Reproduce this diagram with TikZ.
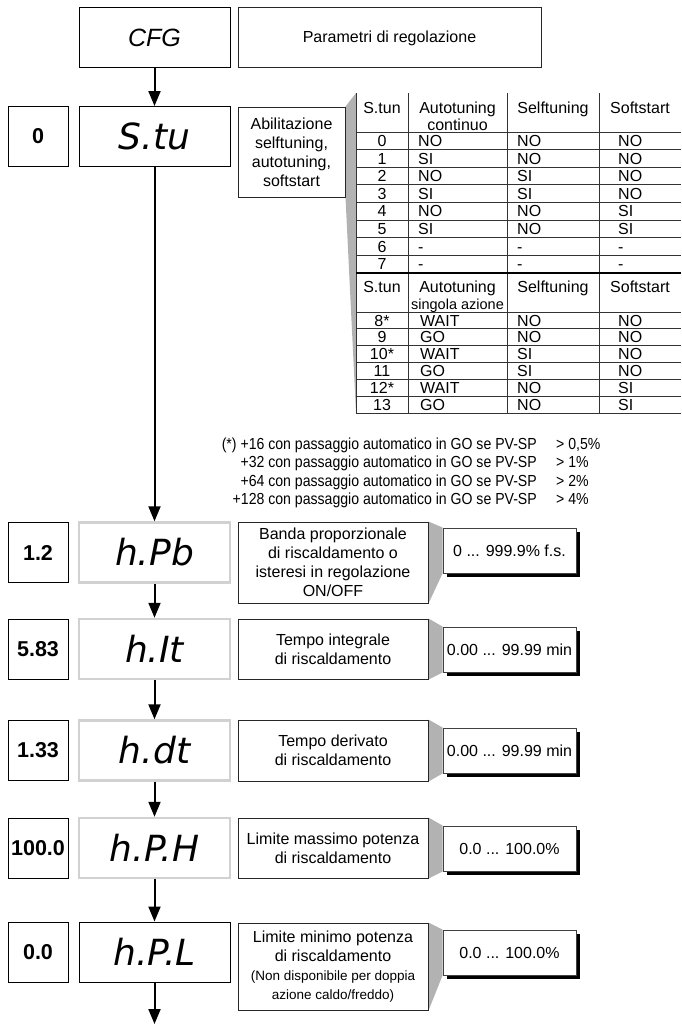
\documentclass[tikz,border=0pt]{standalone}
\usepackage{fontspec}
\setmainfont{Liberation Sans}
\newfontfamily\segfont{DejaVu Sans}
\newfontfamily\narrowfont[FakeStretch=0.88]{Liberation Sans}
\usetikzlibrary{arrows.meta,shadows,backgrounds}

\newcommand{\notefont}{\fontsize{13.5}{17}\selectfont}

\begin{document}
\begin{tikzpicture}[x=1pt,y=-1pt,
  every node/.style={font=\fontsize{16}{19}\selectfont},
  headbox/.style={draw,line width=1pt,minimum width=151pt,minimum height=60pt,inner sep=0pt,font=\fontsize{25}{28}\selectfont\itshape},
  numbox/.style={draw,line width=1pt,minimum width=60pt,minimum height=60pt,inner sep=0pt,font=\fontsize{21.5}{24}\selectfont\bfseries},
  dispbox/.style={draw,line width=1pt,minimum width=151pt,minimum height=60pt,inner sep=0pt,font=\fontsize{36}{40}\selectfont\segfont\itshape},
  dimbox/.style={dispbox,draw=black!18,line width=2.5pt},
  descbox/.style={draw=black!85,line width=1pt,fill=white,minimum width=190pt,align=center,inner sep=0pt,font=\fontsize{16}{19}\selectfont},
  valbox/.style={draw=black!75,line width=1pt,fill=white,minimum width=133pt,minimum height=45pt,inner sep=0pt,
    drop shadow={shadow xshift=4pt,shadow yshift=-4pt,fill=black,opacity=1}},
  cone/.style={fill=black!30},
  flow/.style={line width=2pt,-{Triangle[length=15pt,width=12pt]}},
  cell/.style={inner sep=0pt,font=\fontsize{16}{19}\selectfont},
  rule/.style={line width=0.8pt,draw=black!80},
  note/.style={inner sep=0pt,font=\fontsize{16}{19}\selectfont\narrowfont}
]
\useasboundingbox (0,0) rectangle (681,1025);

\node[headbox] (cfg) at (154.5,38) {CFG};
\node[descbox,minimum width=303pt,minimum height=60pt] (title) at (389.5,38) {Parametri di regolazione};

\node[numbox] (nStu) at (38,136.5) {0};
\node[dispbox] (sTu) at (154.5,136.5) {S.tu};
\node[descbox,minimum width=107pt,minimum height=90pt] (dStu) at (291.5,152) {Abilitazione\\selftuning,\\autotuning,\\softstart};

\coordinate (tabNW) at (356,93);
\coordinate (tabSW) at (356,413);
\foreach \x in {356,408,507,599}
  \draw[rule] (\x,93) -- (\x,413);
\draw[rule] (356,132) -- (681,132);
\foreach \k in {0,...,6}
  \draw[rule] (356,{149.6+17.6*\k}) -- (681,{149.6+17.6*\k});
\draw[line width=2pt] (356,273) -- (681,273);
\draw[rule] (356,312) -- (681,312);
\foreach \k in {0,...,4}
  \draw[rule] (356,{328.8+16.8*\k}) -- (681,{328.8+16.8*\k});
\draw[rule] (356,413) -- (681,413);

\node[cell,anchor=base] (h1n) at (382,113) {S.tun};
\node[cell,anchor=base] (h1a) at (457.5,113) {Autotuning};
\node[cell,anchor=base] (h1b) at (457.5,130) {continuo};
\node[cell,anchor=base] (h1s) at (553,113) {Selftuning};
\node[cell,anchor=base] (h1o) at (640,113) {Softstart};
\node[cell,anchor=base] (h2n) at (382,292) {S.tun};
\node[cell,anchor=base] (h2a) at (457.5,292) {Autotuning};
\node[cell,anchor=base,font=\fontsize{14.5}{17}\selectfont] (h2b) at (457.5,309) {singola azione};
\node[cell,anchor=base] (h2s) at (553,292) {Selftuning};
\node[cell,anchor=base] (h2o) at (640,292) {Softstart};

\foreach \n/\a/\s/\o [count=\k from 0] in {0/NO/NO/NO,1/SI/NO/NO,2/NO/SI/NO,3/SI/SI/NO,4/NO/NO/SI,5/SI/NO/SI,6/-/-/-,7/-/-/-}{
  \pgfmathsetmacro\yb{146.5+17.6*\k}
  \node[cell,anchor=base] (c\k-n) at (382,\yb) {\n};
  \node[cell,anchor=base west] (c\k-a) at (418,\yb) {\a};
  \node[cell,anchor=base west] (c\k-s) at (517,\yb) {\s};
  \node[cell,anchor=base west] (c\k-o) at (618,\yb) {\o};
}
\foreach \n/\a/\s/\o [count=\k from 0] in {8*/WAIT/NO/NO,9/GO/NO/NO,10*/WAIT/SI/NO,11/GO/SI/NO,12*/WAIT/NO/SI,13/GO/NO/SI}{
  \pgfmathsetmacro\yb{326.1+16.8*\k}
  \node[cell,anchor=base] (d\k-n) at (382,\yb) {\n};
  \node[cell,anchor=base west] (d\k-a) at (420,\yb) {\a};
  \node[cell,anchor=base west] (d\k-s) at (517,\yb) {\s};
  \node[cell,anchor=base west] (d\k-o) at (618,\yb) {\o};
}

\node[note,anchor=base east] (n16) at (537,449) {(*) +16 con passaggio automatico in GO se PV-SP};
\node[note,anchor=base west] (p16) at (556,449) {> 0,5\%};
\node[note,anchor=base east] (n32) at (537,467.5) {+32 con passaggio automatico in GO se PV-SP};
\node[note,anchor=base west] (p32) at (556,467.5) {> 1\%};
\node[note,anchor=base east] (n64) at (537,486) {+64 con passaggio automatico in GO se PV-SP};
\node[note,anchor=base west] (p64) at (556,486) {> 2\%};
\node[note,anchor=base east] (n128) at (537,504.5) {+128 con passaggio automatico in GO se PV-SP};
\node[note,anchor=base west] (p128) at (556,504.5) {> 4\%};

\node[numbox] (nPb) at (38,552.5) {1.2};
\node[dimbox] (hPb) at (154.5,552.5) {h.Pb};
\node[descbox,minimum height=81pt] (dPb) at (333,562.5) {Banda proporzionale\\di riscaldamento o\\isteresi in regolazione\\ON/OFF};
\node[valbox] (vPb) at (509.5,550.5) {0 ... 999.9\% f.s.};

\node[numbox] (nIt) at (38,649) {5.83};
\node[dimbox] (hIt) at (154.5,649) {h.It};
\node[descbox,minimum height=60pt] (dIt) at (333,649) {Tempo integrale\\di riscaldamento};
\node[valbox] (vIt) at (509.5,649.5) {0.00 ... 99.99 min};

\node[numbox] (ndt) at (38,750.5) {1.33};
\node[dimbox] (hdt) at (154.5,750.5) {h.dt};
\node[descbox,minimum height=61pt] (ddt) at (333,750.5) {Tempo derivato\\di riscaldamento};
\node[valbox] (vdt) at (509.5,750.5) {0.00 ... 99.99 min};

\node[numbox] (nPH) at (38,848) {100.0};
\node[dimbox] (hPH) at (154.5,848) {h.P.H};
\node[descbox,minimum height=60pt] (dPH) at (333,848) {Limite massimo potenza\\di riscaldamento};
\node[valbox] (vPH) at (509.5,848.5) {0.0 ... 100.0\%};

\node[numbox] (nPL) at (38,952) {0.0};
\node[dispbox] (hPL) at (154.5,952) {h.P.L};
\node[descbox,minimum height=87pt] (dPL) at (333,966.5) {Limite minimo potenza\\di riscaldamento\\\notefont(Non disponibile per doppia\\\notefont azione caldo/freddo)};
\node[valbox] (vPL) at (509.5,952.5) {0.0 ... 100.0\%};
\coordinate (out) at (154.5,1024);

\draw[flow] (cfg) -- (sTu);
\draw[flow] (sTu) -- (hPb);
\draw[flow] (hPb) -- (hIt);
\draw[flow] (hIt) -- (hdt);
\draw[flow] (hdt) -- (hPH);
\draw[flow] (hPH) -- (hPL);
\draw[flow] (hPL) -- (out);

\begin{scope}[on background layer]
\fill[cone] (dStu.north east) -- (tabNW) -- (tabSW) -- (dStu.south east) -- cycle;
\foreach \r in {Pb,It,dt,PH,PL}
  \fill[cone] (d\r.north east) -- (v\r.north west) -- (v\r.south west) -- (d\r.south east) -- cycle;
\end{scope}
\end{tikzpicture}
\end{document}
